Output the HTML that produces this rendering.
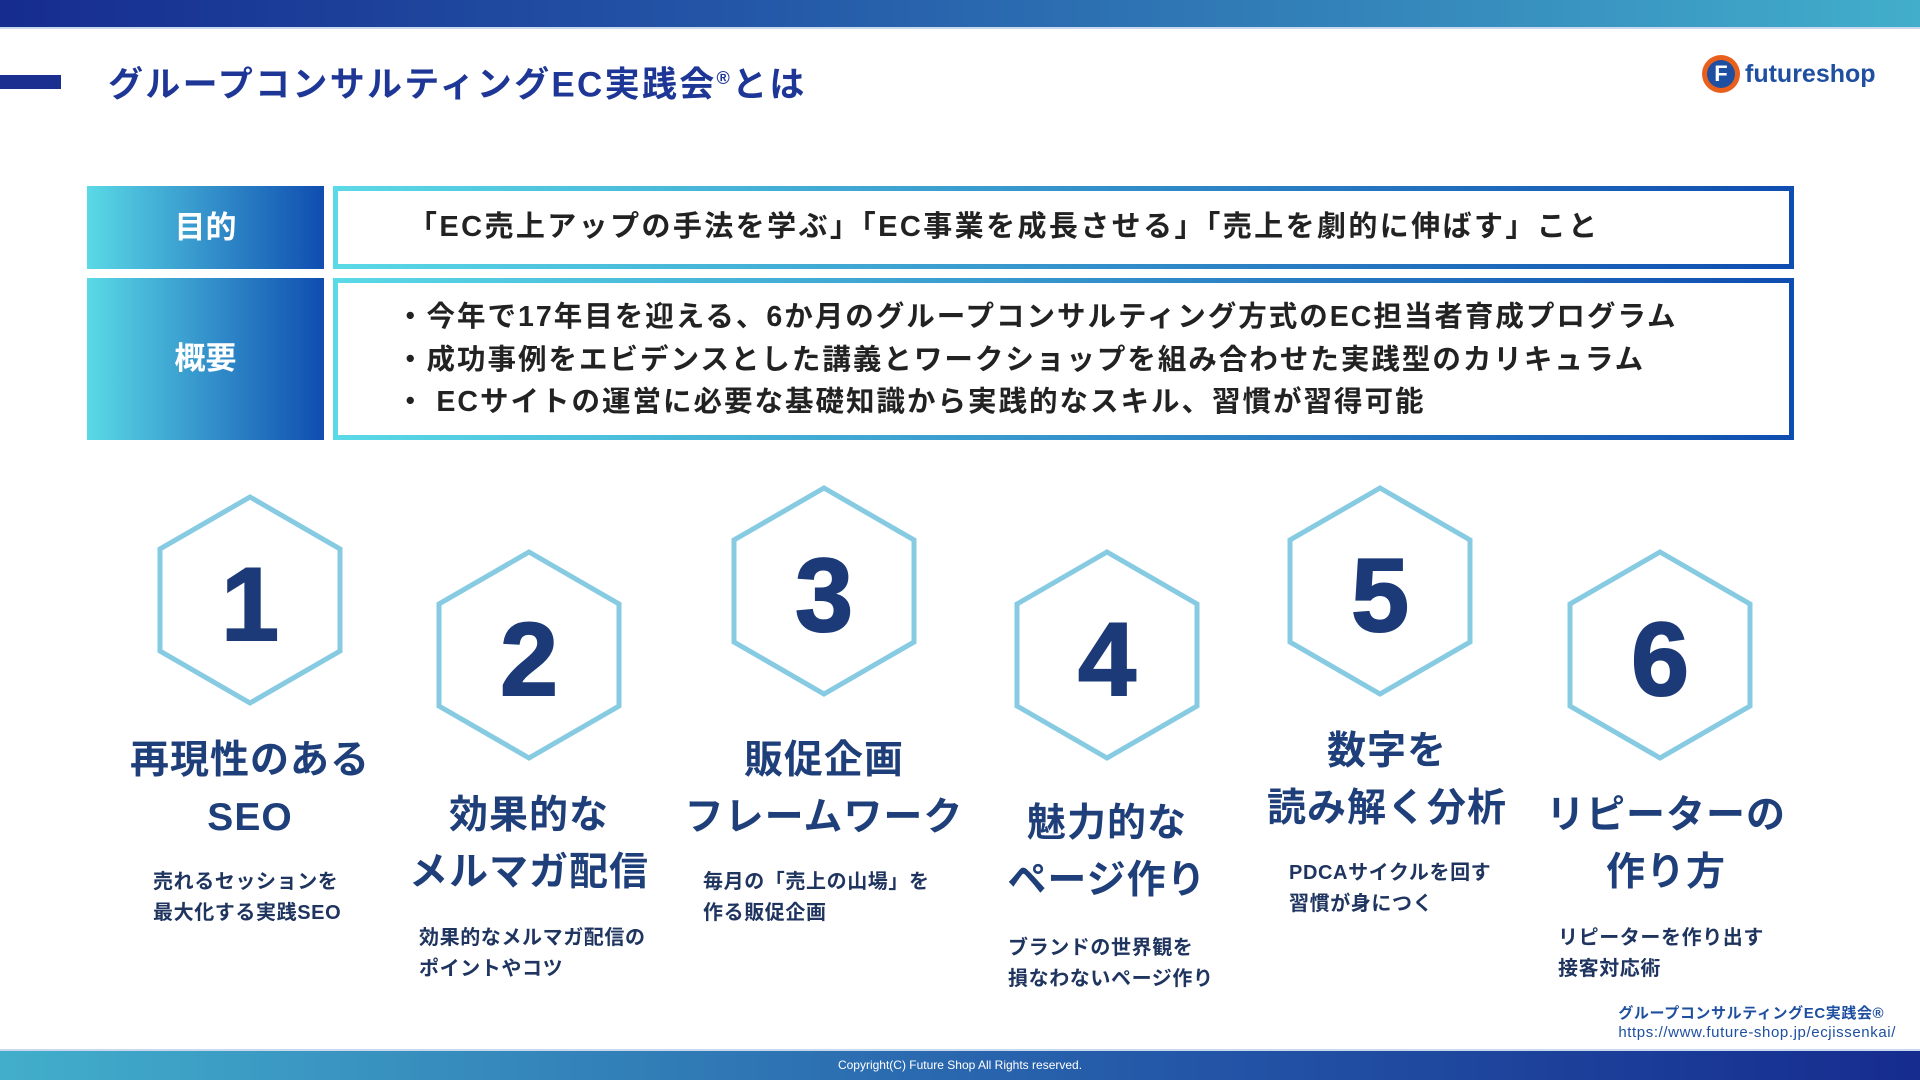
<!DOCTYPE html>
<html><head><meta charset="utf-8"><style>
*{margin:0;padding:0;box-sizing:border-box}
body{width:1920px;height:1080px;position:relative;background:#fff;overflow:hidden;font-family:"Liberation Sans","Noto Sans CJK JP",sans-serif;font-weight:bold}
.a{position:absolute;white-space:nowrap}
.t{color:#1f3f7a;font-size:39px;text-align:center;line-height:57px;transform:translateX(-50%);letter-spacing:1px}
.s{color:#1f3560;font-size:20px;line-height:31px;letter-spacing:0.6px}
.num{position:absolute;font-size:104px;color:#1d3a78;font-family:"Liberation Sans",sans-serif;transform:translate(-50%,-50%);line-height:1;-webkit-text-stroke:2px #1d3a78}
</style></head><body>
<div class="a" style="left:0;top:0;width:1920px;height:27px;background:linear-gradient(90deg,#162c8f,#2458a8 40%,#42aecb)"></div>
<div class="a" style="left:0;top:27px;width:1920px;height:2px;background:#c8d8ee"></div>
<div class="a" style="left:0;top:75px;width:61px;height:14px;background:#1a2f8f"></div>
<div class="a" style="left:108px;top:56px;font-size:35px;color:#1e3796;line-height:44px;letter-spacing:2.3px">グループコンサルティングEC実践会<sup style="font-size:18px">®</sup>とは</div>
<div class="a" style="left:1702px;top:55px;width:38px;height:38px;border-radius:50%;background:#e8601c"></div>
<div class="a" style="left:1707px;top:60px;width:28px;height:28px;border-radius:50%;background:#1e4fa0;color:#fff;font-size:22px;text-align:center;line-height:28px">F</div>
<div class="a" style="left:1745px;top:58px;font-size:25px;color:#1e4fa0;line-height:32px">futureshop</div>

<div class="a" style="left:87px;top:186px;width:237px;height:83px;background:linear-gradient(90deg,#5ad9e6,#0f4db0);color:#fff;font-size:31px;text-align:center;line-height:83px">目的</div>
<div class="a" style="left:333px;top:186px;width:1461px;height:83px;border:5px solid;border-image:linear-gradient(90deg,#5ad9e6,#0f4db0) 1"></div>
<div class="a" style="left:408px;top:206px;font-size:29px;color:#222;line-height:42px;letter-spacing:2.4px">「EC売上アップの手法を学ぶ」「EC事業を成長させる」「売上を劇的に伸ばす」こと</div>

<div class="a" style="left:87px;top:278px;width:237px;height:162px;background:linear-gradient(90deg,#5ad9e6,#0f4db0);color:#fff;font-size:31px;text-align:center;line-height:162px">概要</div>
<div class="a" style="left:333px;top:278px;width:1461px;height:162px;border:5px solid;border-image:linear-gradient(90deg,#5ad9e6,#0f4db0) 1"></div>
<div class="a" style="left:396px;top:296px;font-size:28.5px;color:#222;line-height:42.5px;letter-spacing:2px">・今年で17年目を迎える、6か月のグループコンサルティング方式のEC担当者育成プログラム<br>・成功事例をエビデンスとした講義とワークショップを組み合わせた実践型のカリキュラム<br>・ ECサイトの運営に必要な基礎知識から実践的なスキル、習慣が習得可能</div>

<svg class="a" style="left:0;top:0" width="1920" height="1080">
<g fill="none" stroke="#86cbe2" stroke-width="5">
<polygon points="250,497 340,549 340,651 250,703 160,651 160,549"/>
<polygon points="529,552 619,604 619,706 529,758 439,706 439,604"/>
<polygon points="824,488 914,540 914,642 824,694 734,642 734,540"/>
<polygon points="1107,552 1197,604 1197,706 1107,758 1017,706 1017,604"/>
<polygon points="1380,488 1470,540 1470,642 1380,694 1290,642 1290,540"/>
<polygon points="1660,552 1750,604 1750,706 1660,758 1570,706 1570,604"/>
</g></svg>
<div class="num" style="left:250px;top:605px">1</div>
<div class="num" style="left:529px;top:660px">2</div>
<div class="num" style="left:824px;top:596px">3</div>
<div class="num" style="left:1107px;top:660px">4</div>
<div class="num" style="left:1380px;top:596px">5</div>
<div class="num" style="left:1660px;top:660px">6</div>

<div class="a t" style="left:250px;top:732px">再現性のある<br>SEO</div>
<div class="a t" style="left:529px;top:787px">効果的な<br>メルマガ配信</div>
<div class="a t" style="left:824px;top:732px">販促企画<br>フレームワーク</div>
<div class="a t" style="left:1107px;top:795px">魅力的な<br>ページ作り</div>
<div class="a t" style="left:1387px;top:723px">数字を<br>読み解く分析</div>
<div class="a t" style="left:1666px;top:787px">リピーターの<br>作り方</div>

<div class="a s" style="left:153px;top:867px">売れるセッションを<br>最大化する実践SEO</div>
<div class="a s" style="left:419px;top:923px">効果的なメルマガ配信の<br>ポイントやコツ</div>
<div class="a s" style="left:703px;top:867px">毎月の「売上の山場」を<br>作る販促企画</div>
<div class="a s" style="left:1008px;top:933px">ブランドの世界観を<br>損なわないページ作り</div>
<div class="a s" style="left:1289px;top:858px">PDCAサイクルを回す<br>習慣が身につく</div>
<div class="a s" style="left:1558px;top:923px">リピーターを作り出す<br>接客対応術</div>

<div class="a" style="right:24px;top:1004px;font-size:15px;color:#1e4fa0;line-height:19px;text-align:left;letter-spacing:0.6px">グループコンサルティングEC実践会®<br><span style="font-weight:normal">https://www.future-shop.jp/ecjissenkai/</span></div>
<div class="a" style="left:0;top:1049px;width:1920px;height:2px;background:#c8d8ee"></div>
<div class="a" style="left:0;top:1051px;width:1920px;height:29px;background:linear-gradient(90deg,#42aecb,#2458a8 60%,#162c8f);color:#fff;font-size:12px;font-weight:normal;text-align:center;line-height:29px">Copyright(C) Future Shop All Rights reserved.</div>
</body></html>
